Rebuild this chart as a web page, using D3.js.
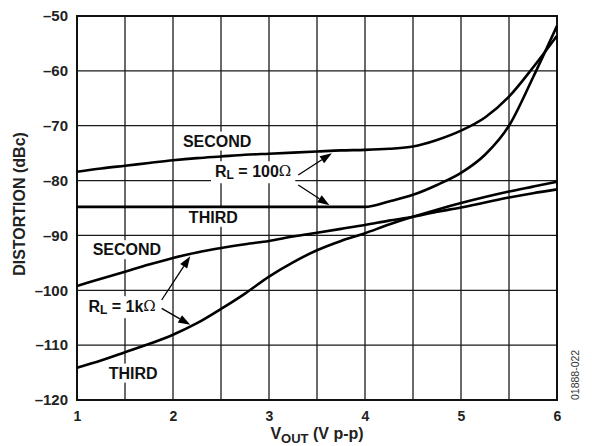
<!DOCTYPE html>
<html>
<head>
<meta charset="utf-8">
<script src="https://cdn.jsdelivr.net/npm/d3@7"></script>
<style>
  html, body { margin: 0; padding: 0; background: #fff; }
  svg { display: block; font-family: "Liberation Sans", Arial, Helvetica, sans-serif; }
</style>
</head>
<body>
<svg id="chart" width="592" height="446"></svg>
<script>
// ---- data ----
const vout = [1, 1.25, 1.5, 1.75, 2, 2.25, 2.5, 2.75, 3, 3.25, 3.5, 3.75, 4, 4.25, 4.5, 4.75, 5, 5.25, 5.5, 5.75, 6];
const second100 = [-78.4, -77.8, -77.3, -76.8, -76.3, -75.9, -75.6, -75.3, -75.1, -74.9, -74.7, -74.5, -74.4, -74.2, -73.8, -72.6, -70.9, -68.5, -64.7, -59.4, -53.6];
const third100  = [-84.8, -84.8, -84.8, -84.8, -84.8, -84.8, -84.8, -84.8, -84.8, -84.8, -84.8, -84.8, -84.8, -83.8, -82.6, -80.8, -78.6, -75.3, -70.0, -61.2, -51.8];
const second1k  = [-99.2, -97.9, -96.6, -95.3, -94.1, -93.1, -92.3, -91.6, -91.0, -90.2, -89.5, -88.8, -88.1, -87.3, -86.6, -85.7, -84.9, -84.0, -83.1, -82.3, -81.6];
const third1k   = [-114.1, -112.8, -111.3, -109.8, -108.1, -106.0, -103.4, -100.6, -97.5, -94.9, -92.7, -91.0, -89.6, -88.0, -86.6, -85.3, -84.1, -83.0, -82.0, -81.1, -80.2];
const xTicks = [1, 2, 3, 4, 5, 6];
const xGrid = [1.5, 2, 2.5, 3, 3.5, 4, 4.5, 5, 5.5];
const yTicks = [-50, -60, -70, -80, -90, -100, -110, -120];

// ---- layout ----
const svg = d3.select("#chart");
const L = 77, R = 557, T = 16, B = 400;
const x = d3.scaleLinear().domain([1, 6]).range([L, R]);
const y = d3.scaleLinear().domain([-120, -50]).range([B, T]);

// grid
const g = svg.append("g");
g.selectAll("line.vg").data(xGrid).enter().append("line")
  .attr("x1", d => x(d)).attr("x2", d => x(d)).attr("y1", T).attr("y2", B)
  .attr("stroke", "#1a1a1a").attr("stroke-width", 1.3);
g.selectAll("line.hg").data(yTicks.filter(d => d > -120 && d < -50)).enter().append("line")
  .attr("x1", L).attr("x2", R).attr("y1", d => y(d)).attr("y2", d => y(d))
  .attr("stroke", "#1a1a1a").attr("stroke-width", 1.3);

// axes (labels only, via d3 axis)
const yAxis = d3.axisLeft(y).tickValues(yTicks).tickSize(0).tickPadding(9)
  .tickFormat(d => "\u2013" + Math.abs(d));
const ya = svg.append("g").attr("transform", `translate(${L},0)`).call(yAxis);
ya.select(".domain").remove();
ya.selectAll("text").attr("font-size", 15).attr("font-weight", "bold").attr("fill", "#222")
  .attr("font-family", "'Liberation Sans', Arial, sans-serif");

const xAxis = d3.axisBottom(x).tickValues(xTicks).tickSize(0).tickPadding(11).tickFormat(d3.format("d"));
const xa = svg.append("g").attr("transform", `translate(0,${B})`).call(xAxis);
xa.select(".domain").remove();
xa.selectAll("text").attr("font-size", 14).attr("font-weight", "bold").attr("fill", "#222")
  .attr("font-family", "'Liberation Sans', Arial, sans-serif");

// frame
svg.append("rect").attr("x", L).attr("y", T).attr("width", R - L).attr("height", B - T)
  .attr("fill", "none").attr("stroke", "#111").attr("stroke-width", 2);

// labels with white boxes (drawn before curves so curves stay on top)
const labelLayer = svg.append("g");
function boxedLabel(cx, cy, build) {
  const t = labelLayer.append("text")
    .attr("x", cx).attr("y", cy)
    .attr("text-anchor", "middle").attr("dominant-baseline", "central")
    .attr("font-size", 16).attr("font-weight", "bold").attr("fill", "#111");
  build(t);
  const bb = t.node().getBBox();
  labelLayer.insert("rect", "text")
    .attr("x", bb.x - 4).attr("y", bb.y - 1).attr("width", bb.width + 8).attr("height", bb.height + 2)
    .attr("fill", "#fff");
}
boxedLabel(x(2.46), y(-72.8), t => t.text("SECOND"));
boxedLabel(x(2.42), y(-86.7), t => t.text("THIRD"));
boxedLabel(x(1.52), y(-92.6), t => t.text("SECOND"));
boxedLabel(x(1.585), y(-115.1), t => t.text("THIRD"));
boxedLabel(x(2.835), y(-78.3), t => {
  t.append("tspan").text("R");
  t.append("tspan").attr("font-size", 12).attr("dy", 4).text("L");
  t.append("tspan").attr("dy", -4).text(" = 100");
  t.append("tspan").attr("font-weight", "normal").attr("font-family", "'DejaVu Serif', serif").attr("font-size", 15).text("\u03A9");
});
boxedLabel(x(1.47), y(-102.9), t => {
  t.append("tspan").text("R");
  t.append("tspan").attr("font-size", 12).attr("dy", 4).text("L");
  t.append("tspan").attr("dy", -4).text(" = 1k");
  t.append("tspan").attr("font-weight", "normal").attr("font-family", "'DejaVu Serif', serif").attr("font-size", 15).text("\u03A9");
});

// curves
const line = d3.line().x(d => x(d[0])).y(d => y(d[1])).curve(d3.curveMonotoneX);
[second100, third100, second1k, third1k].forEach(series => {
  svg.append("path")
    .attr("d", line(vout.map((v, i) => [v, series[i]])))
    .attr("fill", "none").attr("stroke", "#000").attr("stroke-width", 2.6)
    .attr("stroke-linejoin", "round");
});

// arrows
function arrow(x0, y0, x1, y1) {
  const px0 = x(x0), py0 = y(y0), px1 = x(x1), py1 = y(y1);
  const ang = Math.atan2(py1 - py0, px1 - px0);
  const len = 12, w = 4.2;
  const bx = px1 - len * Math.cos(ang), by = py1 - len * Math.sin(ang);
  svg.append("line").attr("x1", px0).attr("y1", py0).attr("x2", bx).attr("y2", by)
    .attr("stroke", "#000").attr("stroke-width", 1.3);
  const p = [[px1, py1],
    [bx + w * Math.sin(ang), by - w * Math.cos(ang)],
    [bx - w * Math.sin(ang), by + w * Math.cos(ang)]];
  svg.append("polygon").attr("points", p.map(q => q.join(",")).join(" ")).attr("fill", "#000");
}
arrow(3.305, -78.98, 3.655, -75.0);
arrow(3.305, -80.8, 3.63, -84.5);
arrow(1.882, -101.77, 2.18, -93.8);
arrow(1.882, -103.3, 2.18, -106.3);

// axis titles
svg.append("text")
  .attr("transform", `translate(25,${(T + B) / 2 - 4}) rotate(-90)`)
  .attr("text-anchor", "middle")
  .attr("font-size", 16).attr("font-weight", "bold").attr("fill", "#222")
  .text("DISTORTION (dBc)");

const xt = svg.append("text")
  .attr("x", (L + R) / 2).attr("y", 439)
  .attr("text-anchor", "middle")
  .attr("font-size", 16).attr("font-weight", "bold").attr("fill", "#222");
xt.append("tspan").text("V");
xt.append("tspan").attr("font-size", 13).attr("dy", 4).text("OUT");
xt.append("tspan").attr("dy", -4).text(" (V p-p)");

// figure id
svg.append("text")
  .attr("transform", `translate(579,${B}) rotate(-90)`)
  .attr("text-anchor", "start")
  .attr("font-size", 10.5).attr("fill", "#333")
  .text("01888-022");
</script>
</body>
</html>
